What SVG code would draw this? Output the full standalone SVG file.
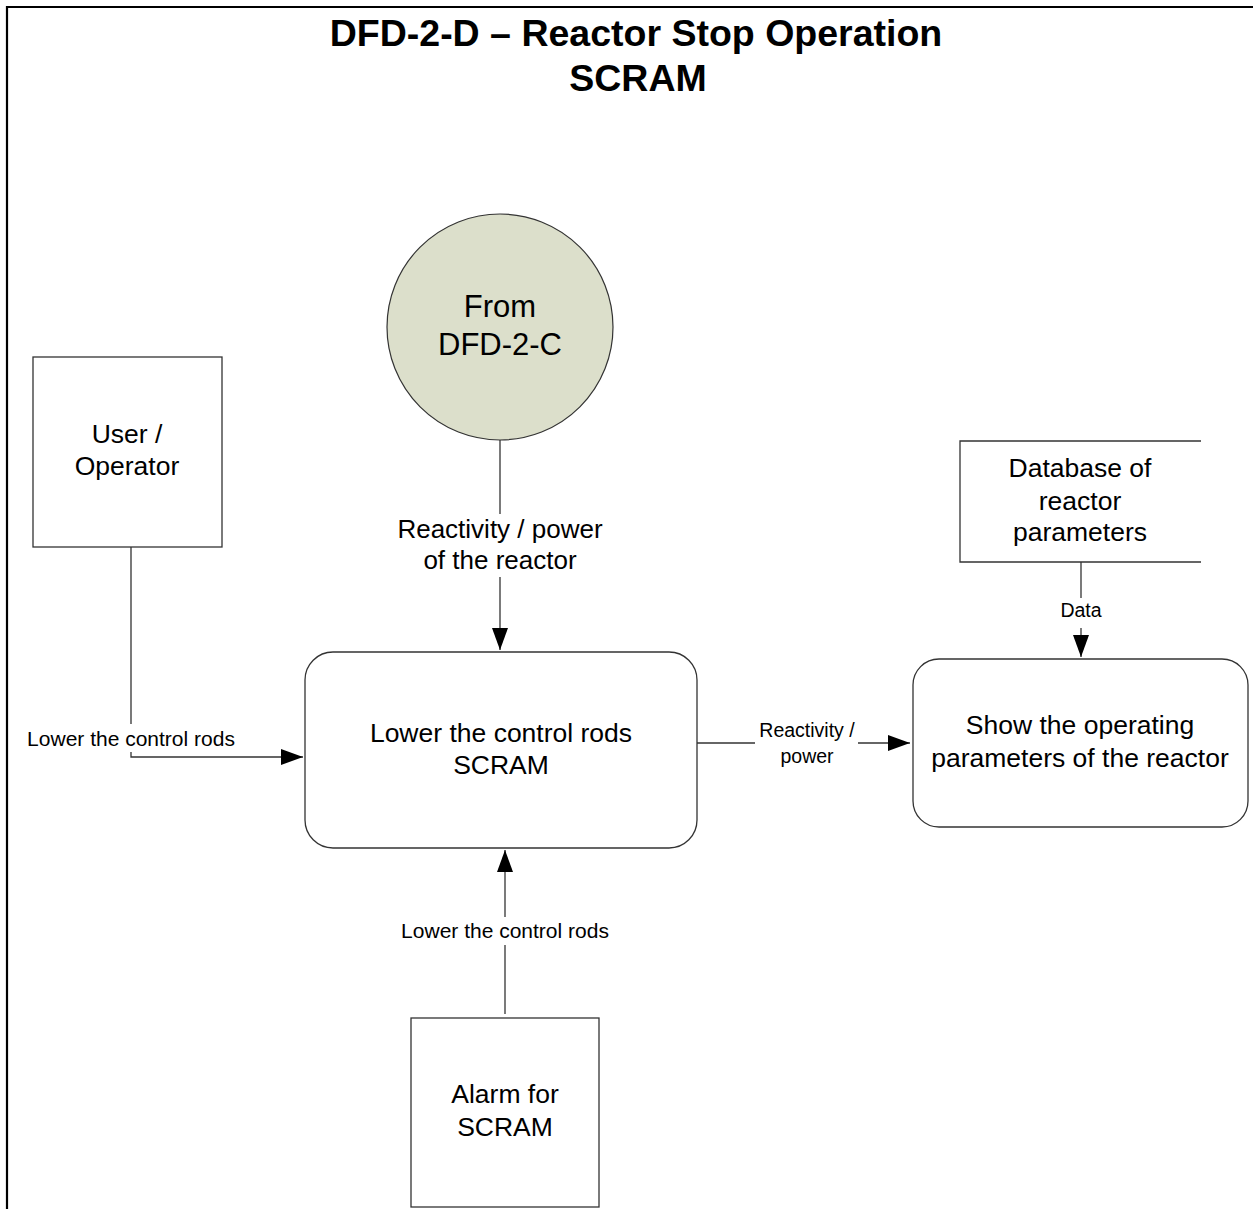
<svg xmlns="http://www.w3.org/2000/svg" width="1253" height="1209" viewBox="0 0 1253 1209">
<style>
  text { font-family: "Liberation Sans", Arial, sans-serif; fill: #000; text-anchor: middle; }
  .title { font-size: 37.5px; font-weight: bold; }
  .node { font-size: 26.5px; }
  .circ { font-size: 31px; }
  .lbl { font-size: 26px; }
  .sm { font-size: 21px; }
  .xs { font-size: 19.5px; }
  .box { fill: #fff; stroke: #333; stroke-width: 1.3; }
  .conn { fill: none; stroke: #333; stroke-width: 1.3; }
  .bg { fill: #fff; stroke: none; }
</style>
<defs>
  <marker id="arr" markerUnits="userSpaceOnUse" markerWidth="24" markerHeight="16" refX="22" refY="8" orient="auto">
    <path d="M0,0 L22,8 L0,16 Z" fill="#000"/>
  </marker>
</defs>
<rect x="0" y="0" width="1253" height="1209" fill="#fff"/>
<g id="frame">
  <path d="M7,1209 L7,7 L1253,7" fill="none" stroke="#000" stroke-width="2.2"/>
</g>
<g id="title">
  <text class="title" x="636" y="46">DFD-2-D – Reactor Stop Operation</text>
  <text class="title" x="638" y="91">SCRAM</text>
</g>
<g id="connectors">
  <path class="conn" d="M131,547 L131,757 L303,757" marker-end="url(#arr)"/>
  <rect class="bg" x="25" y="724" width="214" height="28"/>
  <text class="sm" x="131" y="746">Lower the control rods</text>

  <path class="conn" d="M500,440 L500,650" marker-end="url(#arr)"/>
  <rect class="bg" x="392" y="514" width="216" height="63"/>
  <text class="lbl" x="500" y="538">Reactivity / power</text>
  <text class="lbl" x="500" y="569">of the reactor</text>

  <path class="conn" d="M505,1014 L505,850" marker-end="url(#arr)"/>
  <rect class="bg" x="398" y="917" width="214" height="28"/>
  <text class="sm" x="505" y="938">Lower the control rods</text>

  <path class="conn" d="M697,743 L910,743" marker-end="url(#arr)"/>
  <rect class="bg" x="755" y="718" width="103" height="52"/>
  <text class="xs" x="807" y="737">Reactivity /</text>
  <text class="xs" x="807" y="763">power</text>

  <path class="conn" d="M1081,562 L1081,657" marker-end="url(#arr)"/>
  <rect class="bg" x="1055" y="598" width="52" height="30"/>
  <text class="xs" x="1081" y="617">Data</text>
</g>
<g id="user-operator">
  <rect class="box" x="33" y="357" width="189" height="190"/>
  <text class="node" x="127" y="443">User /</text>
  <text class="node" x="127" y="475">Operator</text>
</g>
<g id="from-dfd-2-c">
  <circle cx="500" cy="327" r="113" fill="#dcdfcb" stroke="#333" stroke-width="1.2"/>
  <text class="circ" x="500" y="317">From</text>
  <text class="circ" x="500" y="355">DFD-2-C</text>
</g>
<g id="lower-rods">
  <rect class="box" x="305" y="652" width="392" height="196" rx="28" ry="28"/>
  <text class="node" x="501" y="742">Lower the control rods</text>
  <text class="node" x="501" y="774">SCRAM</text>
</g>
<g id="alarm">
  <rect class="box" x="411" y="1018" width="188" height="189"/>
  <text class="node" x="505" y="1103">Alarm for</text>
  <text class="node" x="505" y="1136">SCRAM</text>
</g>
<g id="database">
  <path class="box" d="M1201,441 L960,441 L960,562 L1201,562"/>
  <text class="node" x="1080" y="477">Database of</text>
  <text class="node" x="1080" y="510">reactor</text>
  <text class="node" x="1080" y="541">parameters</text>
</g>
<g id="show-params">
  <rect class="box" x="913" y="659" width="335" height="168" rx="26" ry="26"/>
  <text class="node" x="1080" y="734">Show the operating</text>
  <text class="node" x="1080" y="767">parameters of the reactor</text>
</g>
</svg>
